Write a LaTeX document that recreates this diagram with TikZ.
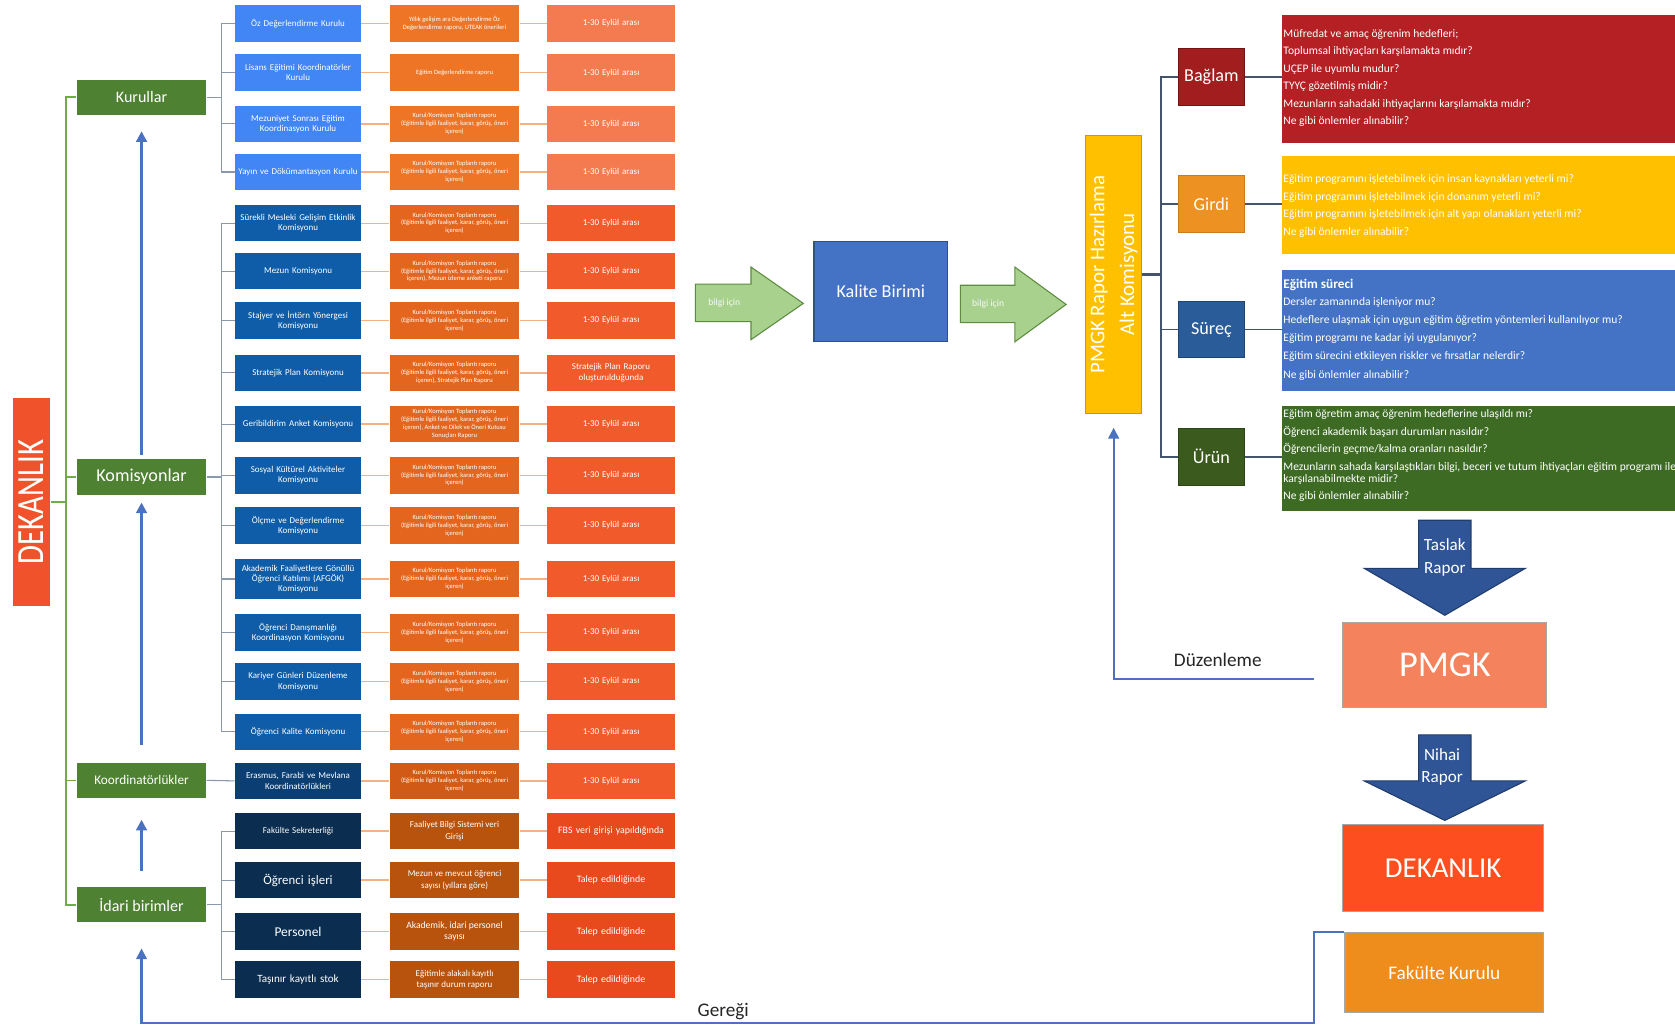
\documentclass[tikz,border=0pt]{standalone}
\usepackage{fontspec}
\setmainfont{Carlito}
\usetikzlibrary{arrows.meta}

\definecolor{dekL}{HTML}{F0532B}
\definecolor{gbox}{HTML}{4F8132}
\definecolor{gline}{HTML}{70AD47}
\definecolor{kurB}{HTML}{4285F4}
\definecolor{komB}{HTML}{0F5DA8}
\definecolor{kooB}{HTML}{0B3F73}
\definecolor{idaB}{HTML}{0B2D4F}
\definecolor{ctop}{HTML}{EE7526}
\definecolor{ckom}{HTML}{E4661E}
\definecolor{ckoo}{HTML}{D05A16}
\definecolor{cida}{HTML}{B8530E}
\definecolor{dtop}{HTML}{F47B4F}
\definecolor{dkom}{HTML}{F15B2B}
\definecolor{dida}{HTML}{E84A1E}
\definecolor{oline}{HTML}{F4B183}
\definecolor{bline}{HTML}{8A98AE}
\definecolor{arrB}{HTML}{4A72C0}
\definecolor{arrG}{HTML}{A9D18E}
\definecolor{arrGd}{HTML}{5E8C3E}
\definecolor{kalite}{HTML}{4472C4}
\definecolor{ylw}{HTML}{FFC000}
\definecolor{slate}{HTML}{44546A}
\definecolor{bagR}{HTML}{A21D1D}
\definecolor{girO}{HTML}{EE9123}
\definecolor{surB}{HTML}{2A5C9A}
\definecolor{urnG}{HTML}{3A5A1E}
\definecolor{tRed}{HTML}{B52024}
\definecolor{tBlue}{HTML}{4472C4}
\definecolor{tGreen}{HTML}{3D6B24}
\definecolor{dnArr}{HTML}{2F5597}
\definecolor{pmgkC}{HTML}{F4825C}
\definecolor{dekR}{HTML}{FC4E1E}
\definecolor{fakC}{HTML}{EE8C1C}

\newcommand\fsz[2]{\fontsize{#1}{#2}\selectfont}
\newcommand\kt{Kurul/Komisyon Toplantı raporu\\(Eğitimle ilgili faaliyet, karar, görüş, öneri\\içeren)}
\newcommand\ktx[1]{Kurul/Komisyon Toplantı raporu\\(Eğitimle ilgili faaliyet, karar, görüş, öneri\\içeren), #1}
\newcommand\ey{1-30 Eylül arası}
\newcommand\rowx[8]{%
  \node[c1box,#4] (a#1) at (279,#2) {#3};
  \node[c2box,#6] (b#1) at (425.5,#2) {#5};
  \node[c3box,#8] (c#1) at (572,#2) {#7};
  \draw[oln] (a#1.east) -- (b#1.west);
  \draw[oln] (b#1.east) -- (c#1.west);
}

\begin{document}
\begin{tikzpicture}[x=0.5pt,y=-0.5pt,
  c1box/.style={rectangle, minimum width=59pt, minimum height=17pt, inner sep=0.5pt, text width=57pt, align=center, text=white, font=\fsz{4.2}{4.8}},
  c2box/.style={rectangle, minimum width=60.5pt, minimum height=17pt, inner sep=0.3pt, align=center, text=white, font=\fsz{3.05}{3.7}},
  c3box/.style={rectangle, minimum width=60pt, minimum height=17pt, inner sep=0.5pt, text width=58pt, align=center, text=white, font=\fsz{4.2}{5}},
  gbx/.style={rectangle, fill=gbox, minimum width=60.5pt, minimum height=16.5pt, inner sep=0pt, text=white},
  oln/.style={draw=oline, line width=0.7pt},
  bln/.style={draw=bline, line width=0.5pt},
  gln/.style={draw=gline, line width=0.7pt},
  sln/.style={draw=slate, line width=0.8pt},
  barrow/.style={draw=arrB, line width=1.5pt, -{Triangle[length=5pt,width=5pt]}},
  tarrow/.style={draw=arrB, line width=1pt, -{Triangle[length=5pt,width=5pt]}},
  catbox/.style={rectangle, minimum width=31pt, minimum height=26.5pt, inner sep=0pt, text=white, font=\fsz{8.5}{10}},
  tbox/.style={rectangle, minimum width=186pt, inner sep=0pt, anchor=west},
  qline/.style={anchor=base west, inner sep=0pt, text=white, font=\fsz{5.4}{6}},
  bigbox/.style={rectangle, inner sep=0pt, text=white, draw=black!35, line width=0.6pt}
]
\useasboundingbox[fill=white] (0,0) rectangle (1568,962);

% ---------- left DEKANLIK ----------
\node[rectangle, fill=dekL, minimum width=17.5pt, minimum height=97pt, inner sep=0pt] (dekl) at (29.5,470) {};
\node[rotate=90, text=white, font=\fsz{18}{18}, inner sep=0pt] (dekt) at (dekl.center) {\scalebox{0.8}[1]{DEKANLIK}};

% ---------- green category boxes ----------
\node[gbx, font=\fsz{7.5}{9}] (kur) at (132.5,91) {Kurullar};
\node[gbx, font=\fsz{8.5}{10}] (kom) at (132.5,446.5) {Komisyonlar};
\node[gbx, font=\fsz{6.2}{8}] (koo) at (132.5,730.5) {Koordinatörlükler};
\node[gbx, font=\fsz{7.5}{9}] (ida) at (132.5,847) {İdari birimler};

\coordinate (dj) at (62,470);
\draw[gln] (dekl.east) -- (dj);
\foreach \n in {kur,kom,koo,ida} \draw[gln] (dj) |- (\n.west);

% ---------- rows ----------
\rowx{1}{22}{Öz Değerlendirme Kurulu}{fill=kurB}{Yıllık gelişim ara Değerlendirme Öz\\Değerlendirme raporu, UTEAK önerileri}{fill=ctop}{\ey}{fill=dtop}
\rowx{2}{68}{Lisans Eğitimi Koordinatörler\\Kurulu}{fill=kurB}{Eğitim Değerlendirme raporu}{fill=ctop}{\ey}{fill=dtop}
\rowx{3}{116}{Mezuniyet Sonrası Eğitim\\Koordinasyon Kurulu}{fill=kurB}{\kt}{fill=ctop}{\ey}{fill=dtop}
\rowx{4}{161}{Yayın ve Dökümantasyon Kurulu}{fill=kurB}{\kt}{fill=ctop}{\ey}{fill=dtop}
\rowx{5}{209}{Sürekli Mesleki Gelişim\,\,Etkinlik\\Komisyonu}{fill=komB}{\kt}{fill=ckom}{\ey}{fill=dkom}
\rowx{6}{254}{Mezun Komisyonu}{fill=komB}{\ktx{Mezun izleme anketi raporu}}{fill=ckom}{\ey}{fill=dkom}
\rowx{7}{300}{Stajyer ve İntörn Yönergesi\\Komisyonu}{fill=komB}{\kt}{fill=ckom}{\ey}{fill=dkom}
\rowx{8}{349}{Stratejik Plan Komisyonu}{fill=komB}{\ktx{Stratejik Plan Raporu}}{fill=ckom}{Stratejik Plan Raporu\\oluşturulduğunda}{fill=dkom}
\rowx{9}{397}{Geribildirim\,\,Anket Komisyonu}{fill=komB}{Kurul/Komisyon Toplantı raporu\\(Eğitimle ilgili faaliyet, karar, görüş, öneri\\içeren), Anket ve Dilek ve Öneri Kutusu\\Sonuçları Raporu}{fill=ckom}{\ey}{fill=dkom}
\rowx{10}{445}{Sosyal Kültürel Aktiviteler\\Komisyonu}{fill=komB}{\kt}{fill=ckom}{\ey}{fill=dkom}
\rowx{11}{492}{Ölçme ve Değerlendirme\\Komisyonu}{fill=komB}{\kt}{fill=ckom}{\ey}{fill=dkom}
\rowx{12}{542}{Akademik Faaliyetlere Gönüllü\\Öğrenci Katılımı (AFGÖK)\\Komisyonu}{fill=komB, minimum height=18.5pt}{\kt}{fill=ckom}{\ey}{fill=dkom}
\rowx{13}{592}{Öğrenci Danışmanlığı\\Koordinasyon Komisyonu}{fill=komB}{\kt}{fill=ckom}{\ey}{fill=dkom}
\rowx{14}{638}{Kariyer Günleri Düzenleme\\Komisyonu}{fill=komB}{\kt}{fill=ckom}{\ey}{fill=dkom}
\rowx{15}{685}{Öğrenci Kalite Komisyonu}{fill=komB}{\kt}{fill=ckom}{\ey}{fill=dkom}
\rowx{16}{731}{Erasmus, Farabi ve Mevlana\\Koordinatörlükleri}{fill=kooB}{\kt}{fill=ckoo}{\ey}{fill=dkom}
\rowx{17}{778}{Fakülte Sekreterliği}{fill=idaB}{Faaliyet Bilgi Sistemi veri\\Girişi}{fill=cida, font=\fsz{4.2}{5.2}}{FBS veri girişi yapıldığında}{fill=dida, font=\fsz{4.6}{5.2}}
\rowx{18}{824}{Öğrenci işleri}{fill=idaB, font=\fsz{6}{7}}{Mezun ve mevcut öğrenci\\sayısı (yıllara göre)}{fill=cida, font=\fsz{4.2}{5.2}}{Talep edildiğinde}{fill=dida, font=\fsz{4.6}{5.2}}
\rowx{19}{872}{Personel}{fill=idaB, font=\fsz{6.3}{7}}{Akademik, idari personel\\sayısı}{fill=cida, font=\fsz{4.5}{5.4}}{Talep edildiğinde}{fill=dida, font=\fsz{4.6}{5.2}}
\rowx{20}{917}{Taşınır kayıtlı stok}{fill=idaB, font=\fsz{5.2}{6}}{Eğitimle alakalı kayıtlı\\taşınır durum raporu}{fill=cida, font=\fsz{4.2}{5.2}}{Talep edildiğinde}{fill=dida, font=\fsz{4.6}{5.2}}

% ---------- brackets ----------
\coordinate (kj) at (207,91);
\draw[bln] (kur.east) -- (kj);
\foreach \i in {1,...,4} \draw[bln] (kj) |- (a\i.west);
\coordinate (cj) at (207,446.5);
\draw[bln] (kom.east) -- (cj);
\foreach \i in {5,...,15} \draw[bln] (cj) |- (a\i.west);
\draw[bln] (koo.east) -- (a16.west);
\coordinate (ij) at (207,847);
\draw[bln] (ida.east) -- (ij);
\foreach \i in {17,...,20} \draw[bln] (ij) |- (a\i.west);

% ---------- upward arrows ----------
\draw[barrow, shorten <=2pt, shorten >=7.5pt] (kom.north) -- (kur.south);
\draw[barrow, shorten <=8pt, shorten >=3.5pt] (koo.north) -- (kom.south);
\draw[barrow, shorten <=7.5pt, shorten >=10pt] (ida.north) -- (koo.south);

% ---------- middle ----------
\filldraw[fill=arrG, draw=arrGd, line width=0.5pt] (651,266) -- (703,266) -- (703,250) -- (752,284) -- (703,318) -- (703,301) -- (651,301) -- cycle;
\node[text=white!90!arrG, font=\fsz{4.5}{5}, inner sep=0pt] (bi1) at (678,284) {bilgi için};
\node[rectangle, fill=kalite, draw=kalite!70!black, line width=0.6pt, minimum width=62.5pt, minimum height=47pt, inner sep=0pt, text=white, font=\fsz{8.5}{10}] (kal) at (824.5,273) {Kalite Birimi};
\filldraw[fill=arrG, draw=arrGd, line width=0.5pt] (899,267) -- (950,267) -- (950,250) -- (998,285) -- (950,320) -- (950,302) -- (899,302) -- cycle;
\node[text=white!90!arrG, font=\fsz{4.5}{5}, inner sep=0pt] (bi2) at (925,285) {bilgi için};

\node[rectangle, fill=ylw, draw=ylw!80!black, line width=0.5pt, minimum width=26.5pt, minimum height=130pt, inner sep=0pt] (pmv) at (1042.5,257) {};
\node[rotate=90, text=white, align=center, font=\fsz{9.8}{14}, inner sep=0pt] (pmvt) at (pmv.center) {PMGK Rapor Hazırlama\\Alt Komisyonu};

% ---------- categories ----------
\node[catbox, fill=bagR, draw=bagR!70!black] (bag) at (1134,72) {Bağlam};
\node[catbox, fill=girO, draw=girO!85!black] (gir) at (1134,191) {Girdi};
\node[catbox, fill=surB, draw=surB!75!black] (sur) at (1134,308.5) {Süreç};
\node[catbox, fill=urnG, draw=urnG!75!black] (urn) at (1134,427.5) {Ürün};

\coordinate (pj) at (1087,257);
\draw[draw=slate, line width=1.3pt] (pmv.east) -- (pj);
\foreach \n in {bag,gir,sur,urn} \draw[sln] (pj) |- (\n.west);

\begin{scope}
\clip (1190,0) rectangle (1568,962);
\node[tbox, fill=tRed, minimum height=60pt] (tb1) at (1200,74) {};
\node[tbox, fill=ylw, minimum height=46pt] (tb2) at (1200,192) {};
\node[tbox, fill=tBlue, minimum height=56.5pt] (tb3) at (1200,309.5) {};
\node[tbox, fill=tGreen, minimum height=49pt] (tb4) at (1200,429) {};
\foreach \t [count=\i] in {{Müfredat ve amaç öğrenim hedefleri;},{Toplumsal ihtiyaçları karşılamakta mıdır?},{UÇEP ile uyumlu mudur?},{TYYÇ gözetilmiş midir?},{Mezunların sahadaki ihtiyaçlarını karşılamakta mıdır?},{Ne gibi önlemler alınabilir?}}
  \node[qline] (qa\i) at (1201,18.6+\i*16.4) {\t};
\foreach \t [count=\i] in {{Eğitim programını işletebilmek için insan kaynakları yeterli mi?},{Eğitim programını işletebilmek için donanım yeterli mi?},{Eğitim programını işletebilmek için alt yapı olanakları yeterli mi?},{Ne gibi önlemler alınabilir?}}
  \node[qline] (qb\i) at (1201,154.5+\i*16.4) {\t};
\node[qline, font=\bfseries\fsz{6.2}{7}] (qc0) at (1201,270) {Eğitim süreci};
\foreach \t [count=\i] in {{Dersler zamanında işleniyor mu?},{Hedeflere ulaşmak için uygun eğitim öğretim yöntemleri kullanılıyor mu?},{Eğitim programı ne kadar iyi uygulanıyor?},{Eğitim sürecini etkileyen riskler ve fırsatlar nelerdir?},{Ne gibi önlemler alınabilir?}}
  \node[qline] (qc\i) at (1201,269+\i*17) {\t};
\foreach \t/\yy [count=\i] in {{Eğitim öğretim amaç öğrenim hedeflerine ulaşıldı mı?}/391,{Öğrenci akademik başarı durumları nasıldır?}/408,{Öğrencilerin geçme/kalma oranları nasıldır?}/424,{Mezunların sahada karşılaştıkları bilgi, beceri ve tutum ihtiyaçları eğitim programı ile}/440,{karşılanabilmekte midir?}/452,{Ne gibi önlemler alınabilir?}/468}
  \node[qline] (qd\i) at (1201,\yy) {\t};
\end{scope}

\draw[sln] (bag.east) -- (bag.east -| tb1.west);
\draw[sln] (gir.east) -- (gir.east -| tb2.west);
\draw[sln] (sur.east) -- (sur.east -| tb3.west);
\draw[sln] (urn.east) -- (urn.east -| tb4.west);

% ---------- bottom right ----------
\filldraw[fill=dnArr, draw=dnArr!70!black, line width=0.5pt] (1328,487) -- (1377,487) -- (1377,532) -- (1428,532) -- (1352.5,576) -- (1277,532) -- (1328,532) -- cycle;
\node[text=white, align=center, font=\fsz{8}{10.5}, inner sep=0pt] (tas) at (1352.5,522) {Taslak\\Rapor};
\node[bigbox, fill=pmgkC, minimum width=95.5pt, minimum height=39.5pt, font=\fsz{17}{18}] (pmgk) at (1352.5,622.5) {PMGK};
\filldraw[fill=dnArr, draw=dnArr!70!black, line width=0.5pt] (1328,688) -- (1377,688) -- (1377,731) -- (1428,731) -- (1352.5,768) -- (1277,731) -- (1328,731) -- cycle;
\node[text=white, align=center, font=\fsz{8}{10.5}, inner sep=0pt] (nih) at (1350,718) {Nihai\\Rapor};
\node[bigbox, fill=dekR, minimum width=94pt, minimum height=40.5pt, font=\fsz{13.5}{15}] (dekr) at (1351,812.5) {DEKANLIK};
\node[bigbox, fill=fakC, minimum width=93pt, minimum height=37.5pt, font=\fsz{9}{11}] (fak) at (1352,910.5) {Fakülte Kurulu};

\coordinate (dz) at (1230,636);
\draw[tarrow, shorten >=6.5pt] (dz) -| (pmv.south);
\node[font=\fsz{9}{11}, text=black!85, inner sep=0pt] (duz) at (1140,618) {Düzenleme};

\coordinate (gc) at (1230,958);
\draw[tarrow, shorten >=12pt] (fak.north west) -| (gc) -| (ida.south);
\node[font=\fsz{9}{11}, text=black!85, inner sep=0pt] (ger) at (677,947) {Gereği};
\end{tikzpicture}
\end{document}
